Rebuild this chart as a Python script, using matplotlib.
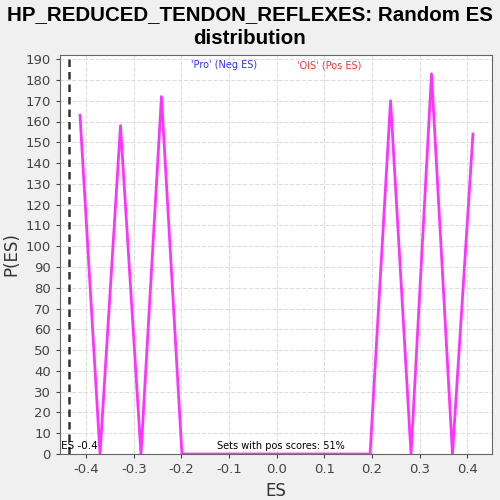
import numpy as np
import matplotlib.pyplot as plt

plt.rcParams['axes.unicode_minus'] = False

es = [-0.413, -0.371, -0.328, -0.285, -0.242, -0.199, 0.196, 0.239, 0.282, 0.325, 0.369, 0.412]
pes = [163, 0, 158, 0, 172, 0, 0, 170, 0, 183, 0, 154]
actual_es = -0.436
pos_pct = 51

fig = plt.figure(figsize=(5, 5), dpi=100, facecolor='#f0f0f0')
ax = fig.add_axes([0.12, 0.092, 0.864, 0.798])
ax.set_facecolor('white')

ax.plot(es, pes, color='#ff33ff', lw=2)
ax.axvline(actual_es, color='#333333', ls='--', lw=1.8, dashes=(3, 2))

ax.set_xlim(-0.455, 0.452)
ax.set_ylim(0, 192)
ax.set_xticks([-0.4, -0.3, -0.2, -0.1, 0.0, 0.1, 0.2, 0.3, 0.4])
ax.set_yticks(np.arange(0, 191, 10))
ax.tick_params(labelsize=9.5, colors='#444444', length=3)
ax.grid(True, color='#dddddd', ls='--', lw=0.8)
for s in ax.spines.values():
    s.set_color('#666666')

ax.set_xlabel('ES', fontsize=12, color='#333333')
ax.set_ylabel('P(ES)', fontsize=12, color='#333333')
fig.text(0.5, 0.99, 'HP_REDUCED_TENDON_REFLEXES: Random ES\ndistribution',
         fontsize=14.8, fontweight='bold', family='Liberation Sans',
         ha='center', va='top', linespacing=1.3)

ax.text(-0.11, 187, "'Pro' (Neg ES)", color='#3333ff', fontsize=7, ha='center', va='center')
ax.text(0.11, 187, "'OIS' (Pos ES)", color='#ff3333', fontsize=7, ha='center', va='center')
ax.text(-0.376, 1.5, 'Actual ES -0.4', fontsize=7.5, ha='right', va='bottom', clip_on=True)
ax.text(-0.125, 1.5, f'Sets with pos scores: {pos_pct}%', fontsize=7, ha='left', va='bottom')

plt.savefig('out.png', facecolor=fig.get_facecolor())
